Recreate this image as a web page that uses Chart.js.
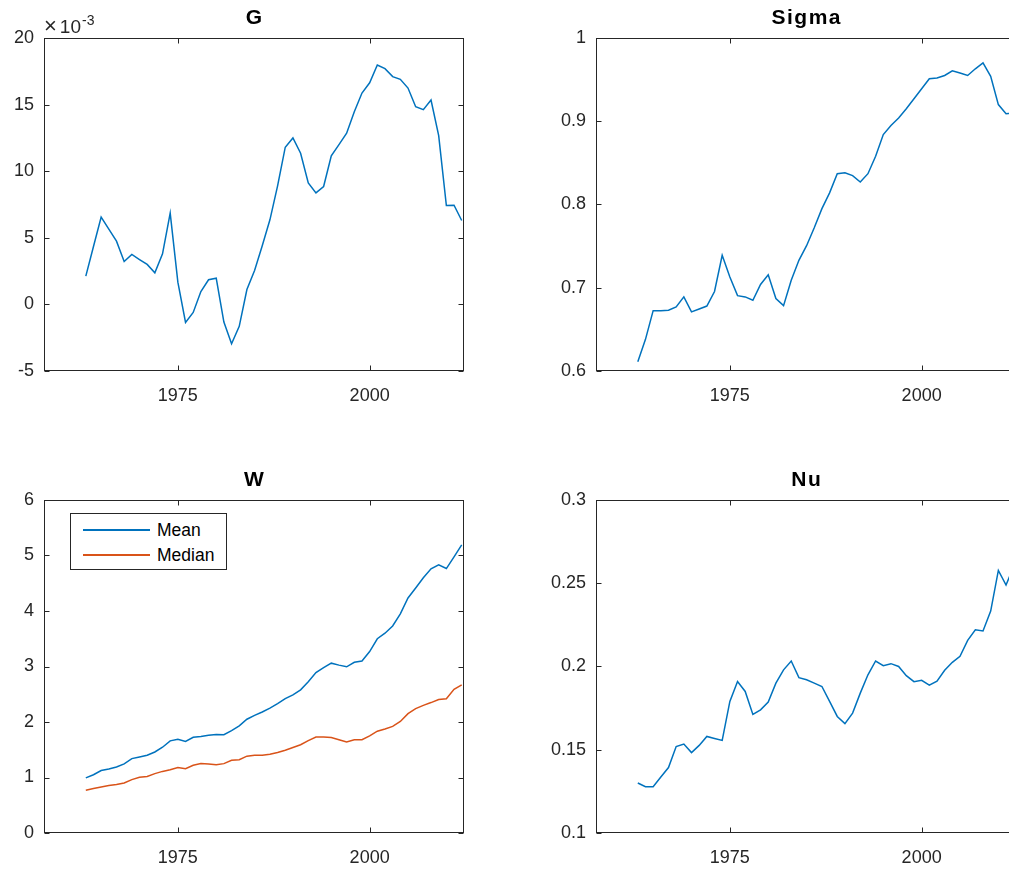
<!DOCTYPE html>
<html>
<head>
<meta charset="utf-8">
<script src="https://cdn.jsdelivr.net/npm/chart.js@4/dist/chart.umd.min.js"></script>
<style>
  html, body { margin: 0; padding: 0; width: 1009px; height: 871px; overflow: hidden; background: #fff; }
  canvas { position: absolute; }
  .ttl { position: absolute; text-align: center; font: bold 21px "Liberation Sans", Arial, sans-serif;
         line-height: 20px; letter-spacing: 1.5px; padding-left: 1.5px; color: #000; white-space: nowrap; }
  #expo { position: absolute; left: 44px; top: 16px; font: 19px "Liberation Sans", Arial, sans-serif;
          line-height: 20px; color: #262626; white-space: nowrap; }
  #expo .x { font-size: 22px; margin-right: 3px; }
  #expo sup { font-size: 14px; position: relative; top: -1px; vertical-align: super; line-height: 0; margin-left: 1px; }
  #legend { position: absolute; left: 70px; top: 513px; width: 155px; height: 55px;
            border: 1px solid #262626; background: #fff; }
  #legend .sw { position: absolute; left: 12px; width: 67px; height: 1.5px; }
  #legend .lb { position: absolute; left: 86px; font: 17.5px "Liberation Sans", Arial, sans-serif;
                line-height: 20px; color: #000; white-space: nowrap; }
</style>
</head>
<body>
<script>
// Annual observations
const years = [1963, 1964, 1965, 1966, 1967, 1968, 1969, 1970, 1971, 1972,
               1973, 1974, 1975, 1976, 1977, 1978, 1979, 1980, 1981, 1982,
               1983, 1984, 1985, 1986, 1987, 1988, 1989, 1990, 1991, 1992,
               1993, 1994, 1995, 1996, 1997, 1998, 1999, 2000, 2001, 2002,
               2003, 2004, 2005, 2006, 2007, 2008, 2009, 2010, 2011, 2012];

const gValues = [2.12e-3, 4.35e-3, 6.55e-3, 5.65e-3, 4.75e-3, 3.22e-3, 3.75e-3, 3.37e-3, 3.0e-3, 2.37e-3,
                 3.8e-3, 6.85e-3, 1.67e-3, -1.35e-3, -0.6e-3, 0.97e-3, 1.85e-3, 1.97e-3, -1.33e-3, -2.95e-3,
                 -1.65e-3, 1.12e-3, 2.55e-3, 4.4e-3, 6.35e-3, 8.9e-3, 11.8e-3, 12.5e-3, 11.35e-3, 9.12e-3,
                 8.37e-3, 8.85e-3, 11.15e-3, 12.0e-3, 12.85e-3, 14.47e-3, 15.87e-3, 16.64e-3, 17.97e-3, 17.7e-3,
                 17.1e-3, 16.9e-3, 16.24e-3, 14.84e-3, 14.62e-3, 15.34e-3, 12.67e-3, 7.42e-3, 7.45e-3, 6.3e-3];

const sigmaValues = [0.611, 0.638, 0.6725, 0.6725, 0.673, 0.677, 0.689, 0.671, 0.6745, 0.678,
                     0.6955, 0.739, 0.713, 0.6905, 0.689, 0.685, 0.704, 0.7155, 0.687, 0.6785,
                     0.709, 0.733, 0.7505, 0.772, 0.795, 0.814, 0.837, 0.838, 0.8347, 0.827,
                     0.837, 0.858, 0.884, 0.895, 0.904, 0.915, 0.927, 0.939, 0.951, 0.952,
                     0.955, 0.9605, 0.958, 0.955, 0.963, 0.970, 0.954, 0.920, 0.909, 0.910];

const wMean = [0.993, 1.05, 1.125, 1.155, 1.19, 1.245, 1.34, 1.37, 1.40, 1.46,
               1.545, 1.66, 1.69, 1.65, 1.725, 1.74, 1.76, 1.775, 1.77, 1.845,
               1.93, 2.05, 2.12, 2.18, 2.25, 2.33, 2.42, 2.49, 2.58, 2.725,
               2.89, 2.98, 3.06, 3.025, 2.995, 3.075, 3.10, 3.27, 3.50, 3.60,
               3.73, 3.95, 4.235, 4.415, 4.60, 4.76, 4.83, 4.765, 4.975, 5.19];

const wMedian = [0.77, 0.80, 0.83, 0.855, 0.872, 0.90, 0.962, 1.005, 1.02, 1.07,
                 1.11, 1.14, 1.18, 1.16, 1.22, 1.25, 1.245, 1.23, 1.25, 1.31,
                 1.32, 1.385, 1.40, 1.40, 1.42, 1.45, 1.49, 1.54, 1.59, 1.665,
                 1.73, 1.73, 1.72, 1.68, 1.64, 1.68, 1.68, 1.75, 1.835, 1.875,
                 1.92, 2.01, 2.15, 2.24, 2.30, 2.35, 2.405, 2.42, 2.59, 2.67];

const nuValues = [0.130, 0.1278, 0.1278, 0.1336, 0.1393, 0.1519, 0.1534, 0.1483, 0.1526, 0.158,
                  0.1568, 0.1556, 0.179, 0.191, 0.185, 0.1712, 0.174, 0.1787, 0.190, 0.198,
                  0.2033, 0.1933, 0.192, 0.190, 0.188, 0.179, 0.170, 0.1657, 0.172, 0.184,
                  0.195, 0.2033, 0.2005, 0.2017, 0.200, 0.1945, 0.1909, 0.1917, 0.1888, 0.1912,
                  0.1977, 0.2025, 0.2061, 0.2157, 0.222, 0.2213, 0.2333, 0.2577, 0.2489, 0.260];

// Tick positions
const xTicks = [1975, 2000];
const gTicks = [-0.005, 0, 0.005, 0.010, 0.015, 0.020];
const sigmaTicks = [0.6, 0.7, 0.8, 0.9, 1.0];
const wTicks = [0, 1, 2, 3, 4, 5, 6];
const nuTicks = [0.10, 0.15, 0.20, 0.25, 0.30];

const BLUE = '#0072BD';
const ORANGE = '#D95319';
const AXIS = '#262626';
const FONT = '"Liberation Sans", Arial, sans-serif';

// Box around the plotting area with inward tick marks on all four sides
const frameTicks = {
  id: 'frameTicks',
  afterDatasetsDraw(chart) {
    const { ctx, chartArea: a, scales: { x, y } } = chart;
    const L = Math.round(a.left) + 0.5, R = Math.round(a.right) - 0.5;
    const T = Math.round(a.top) + 0.5, B = Math.round(a.bottom) - 0.5;
    const len = 5;
    ctx.save();
    ctx.strokeStyle = AXIS;
    ctx.lineWidth = 1;
    ctx.strokeRect(L, T, R - L, B - T);
    ctx.beginPath();
    x.ticks.forEach(t => {
      const px = Math.round(x.getPixelForValue(t.value)) + 0.5;
      ctx.moveTo(px, B); ctx.lineTo(px, B - len);
      ctx.moveTo(px, T); ctx.lineTo(px, T + len);
    });
    y.ticks.forEach(t => {
      const py = Math.round(y.getPixelForValue(t.value)) + 0.5;
      ctx.moveTo(L, py); ctx.lineTo(L + len, py);
      ctx.moveTo(R, py); ctx.lineTo(R - len, py);
    });
    ctx.stroke();
    ctx.restore();
  }
};

function series(values) {
  return years.map((yr, i) => ({ x: yr, y: values[i] }));
}

function panel(opts) {
  const cv = document.createElement('canvas');
  cv.width = opts.w; cv.height = 430;
  cv.style.left = opts.left + 'px'; cv.style.top = opts.top + 'px';
  cv.style.width = opts.w + 'px'; cv.style.height = '430px';
  document.body.appendChild(cv);

  const title = document.createElement('div');
  title.className = 'ttl';
  title.textContent = opts.title;
  title.style.left = (opts.left + opts.axisW) + 'px';
  title.style.width = '418.5px';
  title.style.top = (opts.top + 7) + 'px';
  document.body.appendChild(title);

  return new Chart(cv, {
    type: 'line',
    data: {
      datasets: opts.datasets.map(d => ({
        label: d.label,
        data: series(d.values),
        borderColor: d.color,
        backgroundColor: d.color,
        borderWidth: 1.5,
        pointRadius: 0,
        tension: 0,
        fill: false
      }))
    },
    options: {
      responsive: false,
      animation: false,
      devicePixelRatio: 1,
      layout: { padding: { top: 38, right: opts.w - opts.axisW - 420, left: 0, bottom: 0 } },
      plugins: { legend: { display: false }, tooltip: { enabled: false }, title: { display: false } },
      scales: {
        x: {
          type: 'linear',
          min: 1957.55,
          max: 2012.3,
          afterBuildTicks: s => { s.ticks = xTicks.map(v => ({ value: v })); },
          afterFit: s => { s.height = 59; },
          grid: { display: false, drawTicks: false },
          border: { display: false },
          ticks: {
            autoSkip: false, maxRotation: 0, padding: 14,
            color: AXIS, font: { family: FONT, size: 18 },
            callback: v => String(v)
          }
        },
        y: {
          type: 'linear',
          min: opts.yMin,
          max: opts.yMax,
          afterBuildTicks: s => { s.ticks = opts.yTicks.map(v => ({ value: v })); },
          afterFit: s => { s.width = opts.axisW; },
          grid: { display: false, drawTicks: false },
          border: { display: false },
          ticks: {
            autoSkip: false, padding: 10,
            color: AXIS, font: { family: FONT, size: 18 },
            callback: opts.yLabel
          }
        }
      }
    },
    plugins: [frameTicks]
  });
}

const trim = v => String(+v.toFixed(3));

panel({ title: 'G', left: 0, top: 0, w: 500, axisW: 44,
        yMin: -0.005, yMax: 0.02, yTicks: gTicks, yLabel: v => String(Math.round(v * 1000)),
        datasets: [{ label: 'G', values: gValues, color: BLUE }] });

panel({ title: 'Sigma', left: 540, top: 0, w: 510, axisW: 56,
        yMin: 0.6, yMax: 1.0, yTicks: sigmaTicks, yLabel: trim,
        datasets: [{ label: 'Sigma', values: sigmaValues, color: BLUE }] });

const wSeries = [
  { label: 'Mean', values: wMean, color: BLUE },
  { label: 'Median', values: wMedian, color: ORANGE }
];
panel({ title: 'W', left: 0, top: 462, w: 500, axisW: 44,
        yMin: 0, yMax: 6, yTicks: wTicks, yLabel: trim,
        datasets: wSeries });

panel({ title: 'Nu', left: 540, top: 462, w: 510, axisW: 56,
        yMin: 0.1, yMax: 0.3, yTicks: nuTicks, yLabel: trim,
        datasets: [{ label: 'Nu', values: nuValues, color: BLUE }] });

// Scale multiplier above the G axis
const expo = document.createElement('div');
expo.id = 'expo';
expo.innerHTML = '<span class="x">&times;</span>10<sup>-3</sup>';
document.body.appendChild(expo);

// Legend for the W panel
const legend = document.createElement('div');
legend.id = 'legend';
wSeries.forEach((s, i) => {
  const sw = document.createElement('div');
  sw.className = 'sw';
  sw.style.background = s.color;
  sw.style.top = (15 + i * 25) + 'px';
  const lb = document.createElement('div');
  lb.className = 'lb';
  lb.textContent = s.label;
  lb.style.top = (5.5 + i * 25) + 'px';
  legend.appendChild(sw);
  legend.appendChild(lb);
});
document.body.appendChild(legend);
</script>
</body>
</html>
